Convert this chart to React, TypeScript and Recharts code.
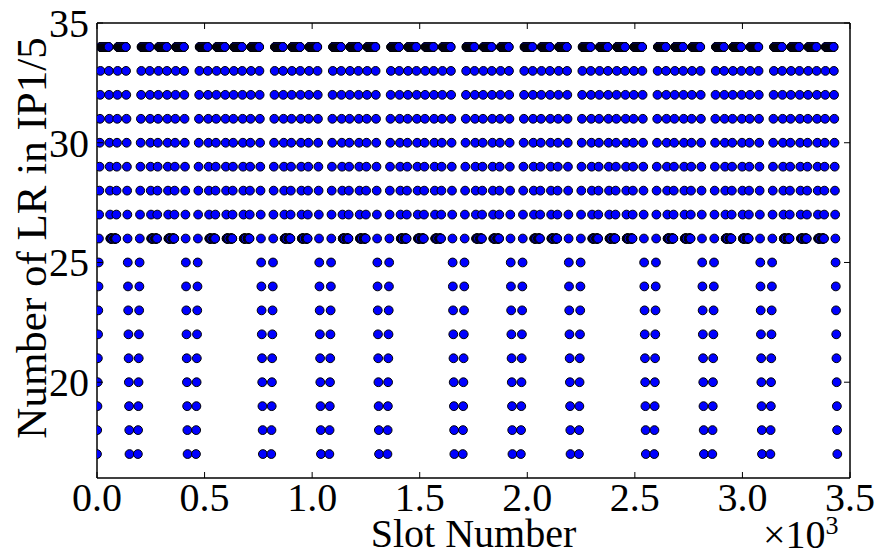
import { ScatterChart, Scatter, XAxis, YAxis, ReferenceLine } from "recharts";

const batchStarts = [0, 190, 460, 810, 1080, 1350, 1700, 1970, 2240, 2590, 2860, 3130];
// number of 72-bunch trains in each batch
const batchTrains = [2, 3, 4, 3, 3, 4, 3, 3, 4, 3, 3, 4];
const TRAIN_LEN = 72;
const TRAIN_GAP = 8;
// LR count of the bunches next to a short gap inside a batch, from the edge inwards
const trainEdgeLR = [26, 26, 26, 26, 26, 26, 26, 26, 26, 26, 27, 28, 29, 30, 31, 32, 33];
// LR count of the bunches next to a long gap between batches, from the edge inwards
const batchEdgeLR = [17, 18, 19, 20, 21, 22, 23, 24, 25, 26, 27, 28, 29, 30, 31, 32, 33];
const FULL_LR = 34;

const xTicks = [0, 500, 1000, 1500, 2000, 2500, 3000, 3500];
const yTicks = [20, 25, 30, 35];

// one entry per filled slot
const points: { slot: number; lr: number }[] = [];
batchStarts.forEach((start, b) => {
  const n = batchTrains[b];
  for (let t = 0; t < n; t++) {
    const t0 = start + t * (TRAIN_LEN + TRAIN_GAP);
    const head = t === 0 ? batchEdgeLR : trainEdgeLR;
    const tail = t === n - 1 ? batchEdgeLR : trainEdgeLR;
    for (let k = 0; k < TRAIN_LEN; k++) {
      const back = TRAIN_LEN - 1 - k;
      let lr = FULL_LR;
      if (k < head.length) lr = Math.min(lr, head[k]);
      if (back < tail.length) lr = Math.min(lr, tail[back]);
      points.push({ slot: t0 + k, lr });
    }
  }
});

const FONT = '"Liberation Serif", "DejaVu Serif", Times, serif';
const W = 875;
const H = 558;
const LEFT = 97;
const RIGHT = 850;
const TOP = 23;
const BOTTOM = 478;
const TICK = 6;

const txt = (size: number) => ({ fontFamily: FONT, fontSize: size, fill: "#000" });

const XTick = (props: any) => {
  const { x, y, payload } = props;
  return (
    <g>
      <line x1={x} y1={y} x2={x} y2={y - TICK} stroke="#000" strokeWidth={1} />
      <line x1={x} y1={TOP} x2={x} y2={TOP + TICK} stroke="#000" strokeWidth={1} />
      <text x={x} y={y + 33} textAnchor="middle" style={txt(40)}>
        {(payload.value / 1000).toFixed(1)}
      </text>
    </g>
  );
};

const YTick = (props: any) => {
  const { x, y, payload } = props;
  return (
    <g>
      <line x1={x} y1={y} x2={x + TICK} y2={y} stroke="#000" strokeWidth={1} />
      <line x1={RIGHT} y1={y} x2={RIGHT - TICK} y2={y} stroke="#000" strokeWidth={1} />
      <text x={x - 8} y={y + 14} textAnchor="end" style={txt(40)}>
        {payload.value}
      </text>
    </g>
  );
};

const Dot = (props: any) => (
  <circle cx={props.cx} cy={props.cy} r={4.4} fill="#0000ff" stroke="#000" strokeWidth={1} />
);

export default function App() {
  return (
    <div style={{ position: "absolute", left: 0, top: 0, background: "#fff" }}>
      <ScatterChart width={W} height={H} margin={{ top: TOP, right: W - RIGHT, bottom: 0, left: 0 }}>
        <XAxis
          type="number"
          dataKey="slot"
          domain={[0, 3500]}
          ticks={xTicks}
          interval={0}
          allowDataOverflow
          height={H - BOTTOM}
          tickSize={0}
          tickMargin={0}
          tick={<XTick />}
          axisLine={{ stroke: "#000", strokeWidth: 1.5 }}
          label={{
            content: () => (
              <g>
                <text x={(LEFT + RIGHT) / 2} y={547} textAnchor="middle" style={txt(40)}>
                  Slot Number
                </text>
                <text x={763} y={548} style={txt(40)}>
                  ×10
                  <tspan style={{ fontSize: 26 }} dy={-14}>3</tspan>
                </text>
              </g>
            ),
          }}
        />
        <YAxis
          type="number"
          dataKey="lr"
          domain={[16, 35]}
          ticks={yTicks}
          interval={0}
          allowDataOverflow
          width={LEFT}
          tickSize={0}
          tickMargin={0}
          tick={<YTick />}
          axisLine={{ stroke: "#000", strokeWidth: 1.5 }}
          label={{
            content: () => (
              <text
                x={46}
                y={238}
                transform="rotate(-90, 46, 238)"
                textAnchor="middle"
                style={txt(43)}
              >
                Number of LR in IP1/5
              </text>
            ),
          }}
        />
        <ReferenceLine y={35} stroke="#000" strokeWidth={1.5} />
        <ReferenceLine x={3500} stroke="#000" strokeWidth={1.5} />
        <Scatter data={points} shape={Dot} isAnimationActive={false} />
      </ScatterChart>
    </div>
  );
}
